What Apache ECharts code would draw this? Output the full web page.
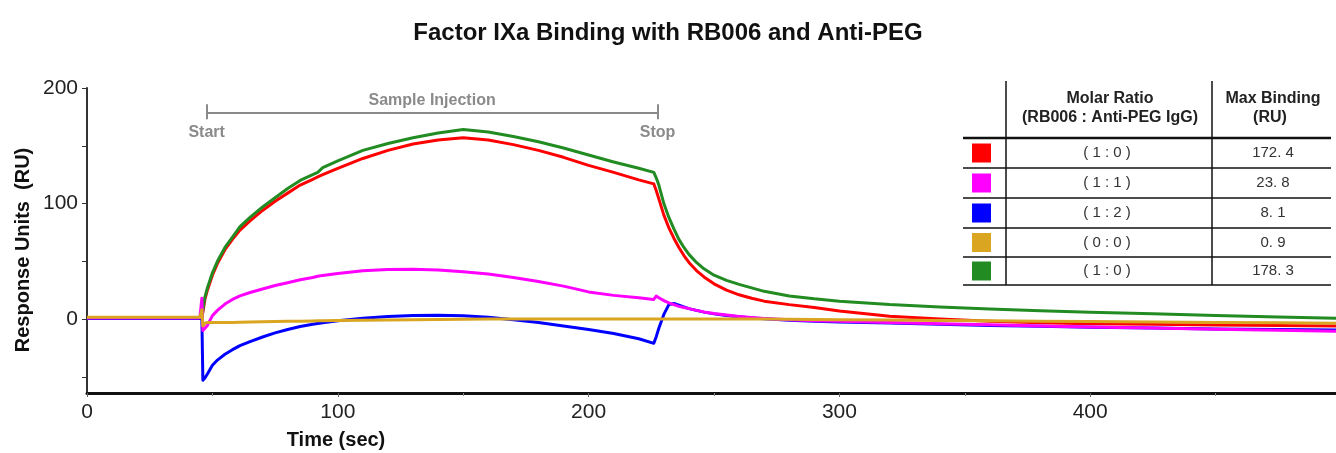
<!DOCTYPE html>
<html>
<head>
<meta charset="utf-8">
<title>Factor IXa Binding with RB006 and Anti-PEG</title>
<script src="https://cdn.jsdelivr.net/npm/echarts@6.0.0/dist/echarts.min.js"></script>
<style>
  html, body { margin: 0; padding: 0; background: #fff; }
  #chart { width: 1336px; height: 453px; }
</style>
</head>
<body>
<div id="chart"></div>
<script>
// 时间 (sec)
var times = [0, 45, 45.8, 46.2, 47, 48, 50,
  52, 55, 58, 61, 65, 70, 75, 80, 85, 90, 92, 94,
  100, 110, 120, 130, 140, 150, 160, 170, 180, 190, 200, 210, 220,
  226, 227, 228, 230, 232, 234, 236, 238, 240, 243, 246, 250, 255, 260, 265, 270,
  280, 290, 300, 320, 340, 360, 380, 400, 425, 450, 475, 498];

// Response Units (RU)
var red = [0.5, 0.5, 0.5, 6, 17, 25, 38,
  48, 60, 69, 77, 85, 94, 102, 109, 116, 121, 123, 125,
  130.5, 139, 146, 151.5, 155, 157, 155, 151, 146, 140, 133, 127, 120.5,
  117, 111, 104, 90, 79, 70, 62, 55, 49, 42, 36.5, 30.5, 25, 21, 18, 15.5,
  12.5, 10, 7, 2.5, 0, -2, -3.2, -4, -4.6, -5.1, -5.5, -6];
var green = [1, 1, 1, 8, 19, 27, 40,
  50, 62, 71, 80, 88, 97, 105, 113, 120, 125, 127, 131,
  137, 146, 152, 157, 161, 164, 162, 158, 153.5, 148, 142, 136, 130.5,
  127, 122, 116, 100, 88, 78, 69, 62, 56, 49, 43.5, 38, 33.5, 30, 27, 24,
  20, 17.5, 15.5, 12.5, 10.5, 8.8, 7.3, 6, 4.5, 3, 1.8, 0.8];
var blue = [0.5, 0.5, 0.5, -53, -51, -47.5, -40,
  -35.5, -30.5, -26.5, -23, -19.5, -15.5, -12, -9, -6.5, -4.5, -3.8, -3.2,
  -1.5, 0.8, 2.2, 3, 3.2, 2.8, 1.5, -0.5, -3, -6, -9, -12.5, -17,
  -21, -15, -8, 4, 12.5, 13.5, 12, 10.5, 9, 7.5, 6, 4.5, 3, 2, 1, 0.2,
  -1, -1.8, -2.5, -3.5, -4.5, -5.5, -6.3, -7, -7.8, -8.5, -9, -9.5];
var magenta = [1, 1, 18, -10, -8, -5.5, 3,
  7.5, 13, 17, 20, 23, 26, 29, 31.5, 34, 36, 37, 37.8,
  39.5, 41.8, 43, 43.2, 42.5, 41, 39, 36, 32.5, 28.5, 23.5, 20.5, 18.5,
  17, 20, 18.5, 16, 14, 12.5, 11, 10, 9, 7.5, 6.2, 4.8, 3.5, 2.3, 1.3, 0.5,
  -0.7, -1.5, -2, -3, -4, -5, -6, -6.8, -7.8, -8.8, -9.7, -10.5];
var orange = [1.5, 1.5, 8, -6, -3.5, -3, -3,
  -3, -3, -2.9, -2.8, -2.6, -2.4, -2.2, -2, -1.8, -1.6, -1.5, -1.5,
  -1.3, -1.1, -0.9, -0.6, -0.4, -0.2, 0, 0, 0, 0, 0, 0, 0,
  0, 0, 0, 0, 0, 0, 0, 0, 0, 0, 0, 0, 0, 0, 0, 0,
  -0.2, -0.3, -0.5, -0.8, -1.2, -1.5, -1.8, -2.2, -2.6, -3, -3.3, -3.6];

// 表格
var ratios = ['( 1 : 0 )', '( 1 : 1 )', '( 1 : 2 )', '( 0 : 0 )', '( 1 : 0 )'];
var maxBinding = ['172. 4', '23. 8', '8. 1', '0. 9', '178. 3'];
var colors = ['#ff0000', '#ff00ff', '#0000ff', '#daa520', '#228b22'];

// 坐标轴
var yTickValues = [-50, 0, 50, 100, 150, 200];
var yLabelValues = [0, 100, 200];
var injection = [47.7, 227.5];

var FONT = 'Liberation Sans, Arial, sans-serif';

function pairs(vals) {
  return times.map(function (t, i) { return [t, vals[i]]; });
}

var myChart = echarts.init(document.getElementById('chart'));

// 表格图形
var tableGraphic = [];
var rowLines = [168, 198, 228, 257, 285];
var rowTop = 138;
tableGraphic.push({ type: 'line', shape: { x1: 1006, y1: 81, x2: 1006, y2: 285 }, style: { stroke: '#111', lineWidth: 1.5 } });
tableGraphic.push({ type: 'line', shape: { x1: 1212, y1: 81, x2: 1212, y2: 285 }, style: { stroke: '#111', lineWidth: 1.5 } });
tableGraphic.push({ type: 'line', shape: { x1: 963, y1: rowTop, x2: 1331, y2: rowTop }, style: { stroke: '#111', lineWidth: 2.5 } });
tableGraphic.push({ type: 'text', x: 1110, y: 99, style: { text: 'Molar Ratio', font: 'bold 16px ' + FONT, fill: '#222', align: 'center', verticalAlign: 'middle' } });
tableGraphic.push({ type: 'text', x: 1110, y: 118, style: { text: '(RB006 : Anti-PEG IgG)', font: 'bold 16px ' + FONT, fill: '#222', align: 'center', verticalAlign: 'middle' } });
tableGraphic.push({ type: 'text', x: 1273, y: 99, style: { text: 'Max Binding', font: 'bold 16px ' + FONT, fill: '#222', align: 'center', verticalAlign: 'middle' } });
tableGraphic.push({ type: 'text', x: 1270, y: 118, style: { text: '(RU)', font: 'bold 16px ' + FONT, fill: '#222', align: 'center', verticalAlign: 'middle' } });
var prev = rowTop;
for (var i = 0; i < ratios.length; i++) {
  var bottom = rowLines[i];
  var mid = (prev + bottom) / 2;
  tableGraphic.push({ type: 'line', shape: { x1: 963, y1: bottom, x2: 1331, y2: bottom }, style: { stroke: '#111', lineWidth: 1.5 } });
  tableGraphic.push({ type: 'rect', shape: { x: 972, y: mid - 9.5, width: 19, height: 19 }, style: { fill: colors[i] } });
  tableGraphic.push({ type: 'text', x: 1107, y: mid, style: { text: ratios[i], font: '15px ' + FONT, fill: '#333', align: 'center', verticalAlign: 'middle' } });
  tableGraphic.push({ type: 'text', x: 1273, y: mid, style: { text: maxBinding[i], font: '15px ' + FONT, fill: '#333', align: 'center', verticalAlign: 'middle' } });
  prev = bottom;
}

// 坐标轴标题
tableGraphic.push({ type: 'text', x: 23, y: 250, rotation: Math.PI / 2, style: { text: 'Response Units  (RU)', font: 'bold 20px ' + FONT, fill: '#111', align: 'center', verticalAlign: 'middle' } });
tableGraphic.push({ type: 'text', x: 336, y: 440, style: { text: 'Time (sec)', font: 'bold 20px ' + FONT, fill: '#111', align: 'center', verticalAlign: 'middle' } });

var annColor = '#8a8a8a';
var annLabel = { show: true, color: annColor, fontFamily: FONT, fontWeight: 'bold', fontSize: 16 };

function lineSeries(name, vals, color) {
  return {
    name: name, type: 'line', data: pairs(vals), showSymbol: false,
    lineStyle: { color: color, width: 3, join: 'round' }, itemStyle: { color: color }
  };
}

var greenSeries = lineSeries('green', green, colors[4]);
greenSeries.markLine = {
  silent: true,
  symbol: ['none', 'none'],
  lineStyle: { color: annColor, width: 2, type: 'solid' },
  data: [
    [{ coord: [injection[0], 179], label: Object.assign({ formatter: 'Sample Injection', position: 'insideMiddleTop', distance: 4 }, annLabel) }, { coord: [injection[1], 179] }],
    [{ coord: [injection[0], 186], label: Object.assign({ formatter: 'Start', position: 'end', distance: 5 }, annLabel) }, { coord: [injection[0], 173] }],
    [{ coord: [injection[1], 186], label: Object.assign({ formatter: 'Stop', position: 'end', distance: 5 }, annLabel) }, { coord: [injection[1], 173] }]
  ]
};

option = {
  animation: false,
  title: {
    text: 'Factor IXa Binding with RB006 and Anti-PEG',
    left: 'center',
    top: 16,
    textStyle: { fontFamily: FONT, fontWeight: 'bold', fontSize: 24, color: '#111' }
  },
  grid: { left: 87, right: 0, top: 88, bottom: 60 },
  xAxis: {
    type: 'value',
    min: 0,
    max: 498,
    interval: 100,
    axisLine: { show: true, onZero: false, lineStyle: { color: '#111', width: 3 } },
    axisTick: { show: true, length: 4, lineStyle: { color: '#666' } },
    minorTick: { show: true, splitNumber: 2, length: 3, lineStyle: { color: '#888' } },
    axisLabel: { fontFamily: FONT, fontSize: 21, color: '#222', margin: 9, showMaxLabel: false },
    splitLine: { show: false }
  },
  yAxis: {
    type: 'value',
    min: -64,
    max: 200,
    axisLine: { show: true, onZero: false, lineStyle: { color: '#333', width: 2 } },
    axisTick: { show: true, length: 5, customValues: yTickValues, lineStyle: { color: '#333' } },
    axisLabel: { fontFamily: FONT, fontSize: 21, color: '#222', margin: 9, customValues: yLabelValues },
    splitLine: { show: false }
  },
  graphic: tableGraphic,
  series: [
    lineSeries('red', red, colors[0]),
    greenSeries,
    lineSeries('blue', blue, colors[2]),
    lineSeries('magenta', magenta, colors[1]),
    lineSeries('orange', orange, colors[3])
  ]
};

myChart.setOption(option);
</script>
</body>
</html>
